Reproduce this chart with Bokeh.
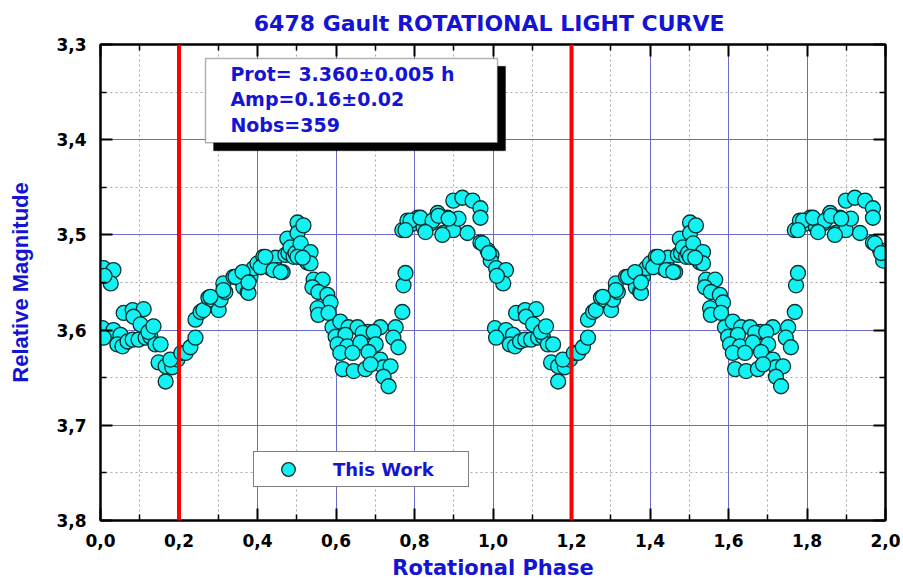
from bokeh.plotting import figure
from bokeh.models import (Range1d, FixedTicker, LinearAxis, Span, BoxAnnotation,
                          Label, CustomJSTickFormatter)
from bokeh.embed import file_html
from bokeh.resources import INLINE

# ---- data (one rotational cycle) ----
phase = [0.008, 0.033, 0.026, 0.010,
         0.005, 0.033, 0.051, 0.043, 0.056, 0.069, 0.082, 0.097, 0.115, 0.127, 0.140, 0.153,
         0.059, 0.082, 0.110, 0.084, 0.102, 0.122, 0.135, 0.148, 0.166, 0.183, 0.196, 0.178,
         0.166, 0.008,
         0.206, 0.217, 0.229, 0.242, 0.242, 0.255, 0.262, 0.275, 0.285, 0.301, 0.306, 0.313,
         0.318, 0.339, 0.357, 0.364, 0.375, 0.377, 0.382, 0.390, 0.400, 0.415, 0.420, 0.433,
         0.446, 0.451, 0.464, 0.471, 0.476, 0.479, 0.484, 0.492, 0.497, 0.502, 0.502, 0.517,
         0.510, 0.535, 0.527, 0.535, 0.502, 0.515, 0.408, 0.344, 0.313, 0.280, 0.362, 0.377,
         0.441, 0.459, 0.420,
         0.543, 0.566, 0.540, 0.555, 0.578, 0.586, 0.553, 0.555, 0.581, 0.591, 0.611, 0.632,
         0.655, 0.680, 0.713, 0.752, 0.599, 0.624, 0.668, 0.696, 0.604, 0.629, 0.662, 0.701,
         0.746, 0.759, 0.611, 0.642, 0.683, 0.713, 0.721, 0.739, 0.617, 0.645, 0.675, 0.688,
         0.721, 0.734,
         0.769, 0.772, 0.777,
         0.769, 0.782, 0.797, 0.808, 0.823, 0.841, 0.859, 0.874, 0.884, 0.899, 0.912, 0.935,
         0.899, 0.922, 0.948, 0.968, 0.968, 0.790, 0.777, 0.815, 0.846, 0.828, 0.861, 0.887,
         0.871, 0.968, 0.986, 0.996, 0.994, 0.973, 0.989]
mag = [3.535, 3.537, 3.551, 3.543,
       3.598, 3.600, 3.605, 3.615, 3.617, 3.612, 3.610, 3.610, 3.608, 3.607, 3.615, 3.615,
       3.582, 3.579, 3.578, 3.586, 3.594, 3.602, 3.596, 3.634, 3.638, 3.639, 3.631, 3.631,
       3.654, 3.608,
       3.624, 3.624, 3.618, 3.608, 3.589, 3.581, 3.579, 3.566, 3.568, 3.579, 3.568, 3.551,
       3.560, 3.544, 3.547, 3.555, 3.560, 3.561, 3.544, 3.535, 3.530, 3.523, 3.532, 3.535,
       3.524, 3.537, 3.539, 3.521, 3.504, 3.519, 3.513, 3.523, 3.519, 3.487, 3.498, 3.490,
       3.509, 3.518, 3.529, 3.530, 3.523, 3.524, 3.534, 3.544, 3.558, 3.565, 3.539, 3.550,
       3.537, 3.539, 3.523,
       3.547, 3.547, 3.555, 3.560, 3.563, 3.571, 3.577, 3.584, 3.582, 3.597, 3.591, 3.597,
       3.597, 3.602, 3.597, 3.597, 3.607, 3.605, 3.603, 3.602, 3.615, 3.617, 3.613, 3.615,
       3.608, 3.618, 3.624, 3.624, 3.623, 3.631, 3.639, 3.638, 3.641, 3.643, 3.641, 3.636,
       3.649, 3.659,
       3.581, 3.553, 3.540,
       3.495, 3.485, 3.488, 3.482, 3.492, 3.488, 3.477, 3.498, 3.482, 3.495, 3.483, 3.498,
       3.464, 3.461, 3.464, 3.472, 3.482, 3.485, 3.495, 3.482, 3.485, 3.497, 3.480, 3.483,
       3.500, 3.508, 3.516, 3.521, 3.527, 3.509, 3.519]

# phased over two cycles
x_all = phase + [v + 1.0 for v in phase]
y_all = mag + mag

x_major = [0.0, 0.2, 0.4, 0.6, 0.8, 1.0, 1.2, 1.4, 1.6, 1.8, 2.0]
x_minor = [0.1, 0.3, 0.5, 0.7, 0.9, 1.1, 1.3, 1.5, 1.7, 1.9]
y_major = [3.3, 3.4, 3.5, 3.6, 3.7, 3.8]
y_minor = [3.35, 3.45, 3.55, 3.65, 3.75]

red_lines = [0.2, 1.2]
title_text = "6478 Gault  ROTATIONAL LIGHT CURVE"
info_lines = ["Prot= 3.360\u00b10.005 h", "Amp=0.16\u00b10.02", "Nobs=359"]
legend_text = "This Work"

BLUE = "#1414D2"
FONT = "DejaVu Sans"

p = figure(width=903, height=582, output_backend="svg", toolbar_location=None,
           x_range=Range1d(0, 2), y_range=Range1d(3.8, 3.3),
           min_border_left=100, min_border_right=18, min_border_top=43, min_border_bottom=60)

p.title.text = title_text
p.title.text_font = FONT
p.title.text_font_size = "22px"
p.title.text_font_style = "bold"
p.title.text_color = BLUE
p.title.align = "center"
p.title.standoff = 17

xt = FixedTicker(ticks=x_major, minor_ticks=x_minor)
yt = FixedTicker(ticks=y_major, minor_ticks=y_minor)
fmt = CustomJSTickFormatter(code="return tick.toFixed(1).replace('.', ',');")
blank = CustomJSTickFormatter(code="return '';")

def style_axis(ax, labels=True):
    ax.axis_line_color = "black"
    ax.axis_line_width = 2
    ax.major_tick_in = 12
    ax.major_tick_out = 0
    ax.minor_tick_in = 6
    ax.minor_tick_out = 0
    ax.major_tick_line_width = 2
    ax.minor_tick_line_width = 1.5
    ax.major_tick_line_color = "black"
    ax.minor_tick_line_color = "black"
    if labels:
        ax.major_label_text_font = FONT
        ax.major_label_text_font_style = "bold"
        ax.major_label_text_font_size = "17px"
        ax.major_label_text_color = "black"
    else:
        ax.major_label_standoff = 0

xa = p.xaxis[0]
xa.ticker = xt
xa.formatter = fmt
style_axis(xa)
xa.major_label_standoff = 13
xa.axis_label = "Rotational Phase"
xa.axis_label_text_font = FONT
xa.axis_label_text_font_size = "21px"
xa.axis_label_text_font_style = "bold"
xa.axis_label_text_color = BLUE
xa.axis_label_standoff = 6

ya = p.yaxis[0]
ya.ticker = yt
ya.formatter = fmt
style_axis(ya)
ya.major_label_standoff = 14
ya.axis_label = "Relative Magnitude"
ya.axis_label_text_font = "Liberation Sans"
ya.axis_label_text_font_size = "22px"
ya.axis_label_text_font_style = "bold"
ya.axis_label_text_color = BLUE
ya.axis_label_standoff = 20

top_ax = LinearAxis(ticker=xt, formatter=blank)
style_axis(top_ax, labels=False)
p.add_layout(top_ax, "above")
right_ax = LinearAxis(ticker=yt, formatter=blank)
style_axis(right_ax, labels=False)
p.add_layout(right_ax, "right")

p.xgrid.ticker = xt
p.ygrid.ticker = yt
for g in (p.xgrid[0], p.ygrid[0]):
    g.grid_line_color = "#6a6acc"
    g.grid_line_width = 1
    g.minor_grid_line_color = "#a8a8a8"
    g.minor_grid_line_dash = "2 3"
    g.minor_grid_line_width = 1

p.outline_line_color = "black"
p.outline_line_width = 2
p.background_fill_color = "white"
p.border_fill_color = "white"

r = p.scatter(x_all, y_all, size=15, marker="circle", fill_color="#12F2F2",
              line_color="#0a3030", line_width=1.3, legend_label=legend_text)

for v in red_lines:
    p.add_layout(Span(location=v, dimension="height", line_color="#FF0000", line_width=4))

# info box with drop shadow
p.add_layout(BoxAnnotation(left=0.288, right=1.032, top=3.3229, bottom=3.4117,
                           fill_color="black", fill_alpha=1, line_color="black"))
p.add_layout(BoxAnnotation(left=0.2675, right=1.0115, top=3.3146, bottom=3.4033,
                           fill_color="white", fill_alpha=1, line_color="black", line_width=1.5))
for txt, yy in zip(info_lines, [3.3313, 3.3574, 3.3846]):
    p.add_layout(Label(x=0.331, y=yy, text=txt, text_font=FONT, text_font_style="bold",
                       text_font_size="19px", text_color=BLUE, text_baseline="middle"))

lg = p.legend[0]
lg.location = (153, 33)
lg.border_line_color = "black"
lg.border_line_width = 1.5
lg.background_fill_color = "white"
lg.background_fill_alpha = 1
lg.padding = 0
lg.margin = 0
lg.glyph_width = 68
lg.glyph_height = 34
lg.label_height = 34
lg.label_width = 135
lg.label_standoff = 11
lg.label_text_font = FONT
lg.label_text_font_style = "bold"
lg.label_text_font_size = "18px"
lg.label_text_color = BLUE
lg.label_text_baseline = "middle"

open("out.html", "w").write(file_html(p, INLINE))
